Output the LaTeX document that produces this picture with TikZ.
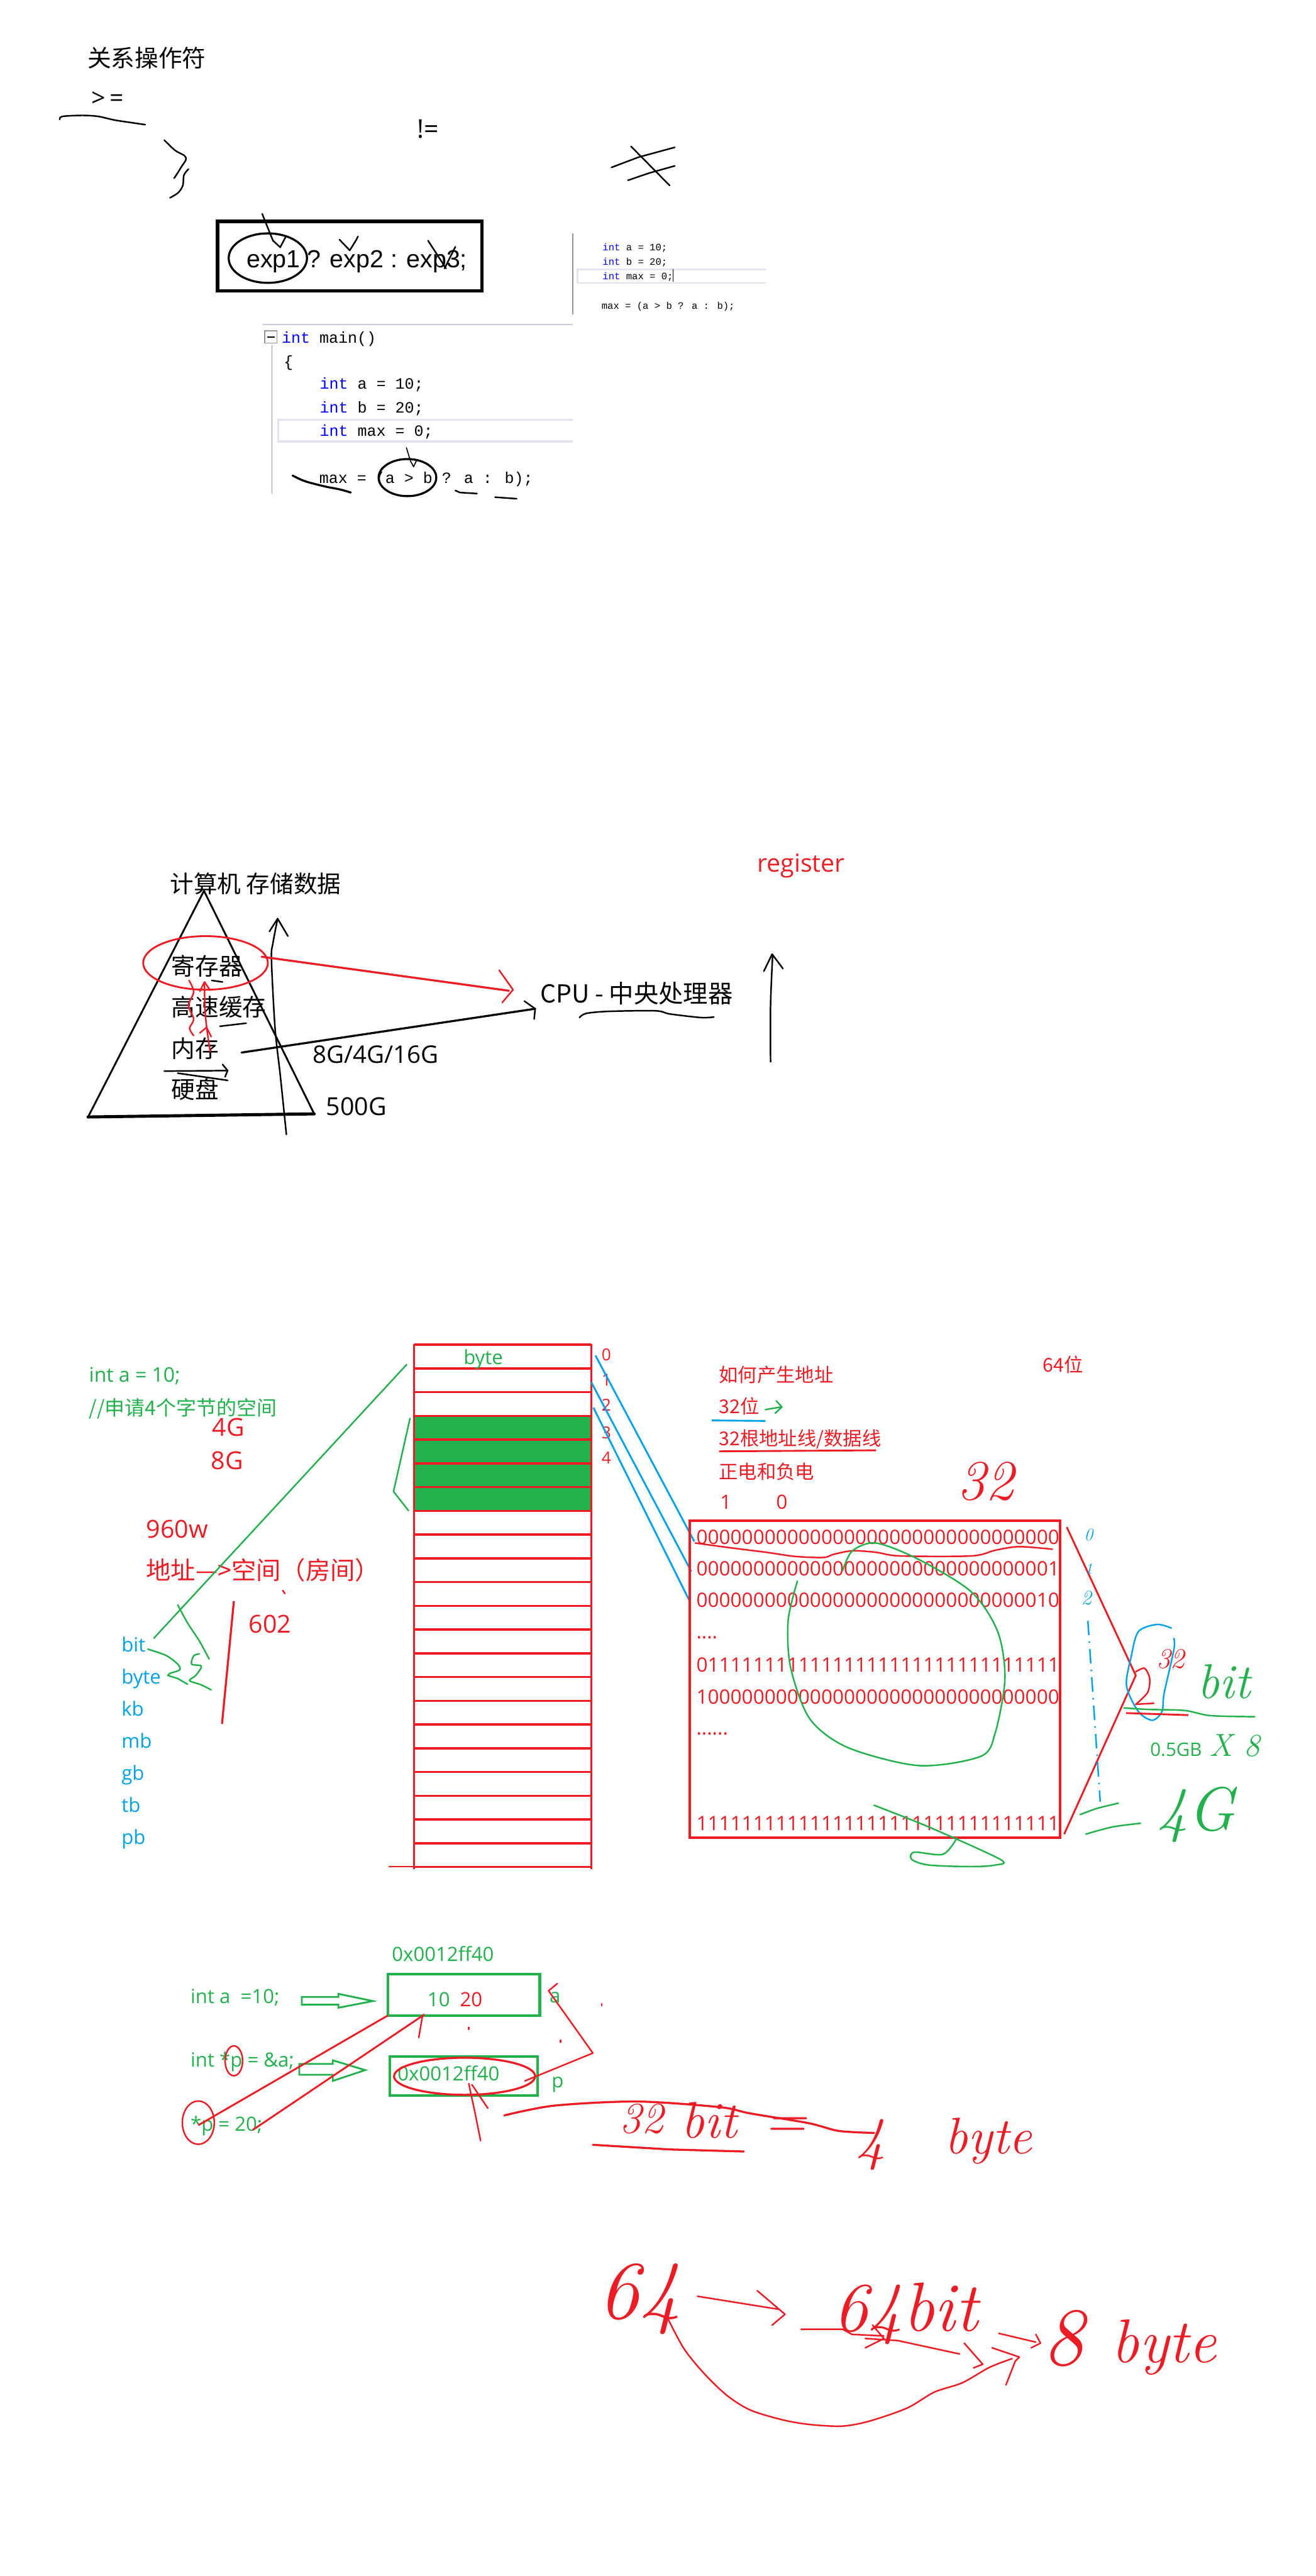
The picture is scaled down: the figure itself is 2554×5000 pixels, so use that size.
\documentclass[tikz,border=0pt]{standalone}
\usepackage{fontspec}
\newfontfamily\cjk{Noto Sans CJK SC}
\newfontfamily\lat{Open Sans}
\newfontfamily\arialish{Liberation Sans}
\newfontfamily\codefont{Liberation Mono}
\usetikzlibrary{arrows.meta}
\definecolor{paintRed}{RGB}{237,28,36}
\definecolor{paintGreen}{RGB}{34,177,76}
\definecolor{paintBlue}{RGB}{0,162,232}
\definecolor{kwBlue}{RGB}{0,0,255}
\definecolor{rulerGray}{RGB}{150,150,150}
\definecolor{paneLine}{RGB}{200,202,218}
\definecolor{hiLite}{RGB}{226,226,240}
\newcommand{\fsz}[1]{\fontsize{#1}{#1}\selectfont}
\newcommand{\kw}[1]{\textcolor{kwBlue}{#1}}

\begin{document}
\begin{tikzpicture}[x=1pt, y=-1pt,
    every node/.style={inner sep=0pt, outer sep=0pt, anchor=base west},
    zh/.style={font={\cjk\fsz{#1}}},
    en/.style={font={\lat\fsz{#1}}},
    cd/.style={font={\codefont\fsz{#1}}},
    hw/.style={font={\normalfont\itshape\fsz{#1}}},
    pen/.style={line width=3pt, line cap=round, line join=round},
    memline/.style={paintRed, line width=4.5pt},
    hollow/.style={paintGreen, line width=3.5pt, line join=miter}
  ]
  \useasboundingbox[fill=white] (0,0) rectangle (2554,5000);

  % relational operators
  \node[zh=46] (relOps) at (170,130) {关系操作符};
  \node[en=48] (geq) at (178,207) {>\kern7pt=};
  \node[en=50] (neq) at (810,268) {!=};
  \draw[pen] plot[smooth] coordinates {(116,232) (121,226) (160,224) (191,226) (222,233) (255,238) (282,242)};
  \draw[pen] plot[smooth] coordinates {(319,272) (340,292) (358,302) (361,310) (352,324) (346,334) (338,346)};
  \draw[pen] plot[smooth] coordinates {(366,328) (357,340) (355,360) (346,374) (330,384)};
  \draw[pen] (1225,284) -- (1300,360);
  \draw[pen] (1187,325) -- (1240,305) -- (1310,286);
  \draw[pen] (1219,350) -- (1260,336) -- (1310,322);

  % ternary operator
  \node[draw, line width=7pt, minimum width=513pt, minimum height=135pt, anchor=center] (ternBox) at (679,497) {};
  \node[font={\arialish\fsz{48}}] (ternary) at (479,519) {exp1 ? exp2 : exp3;};
  \draw[line width=4pt] (520,501) ellipse [x radius=76pt, y radius=48pt];
  \draw[pen] (509,415) -- (523,450) -- (530,467) -- (544,480) -- (554,461);
  \draw[pen] (659,465) -- (679,486) -- (692,465) -- (695,459);
  \draw[pen] (831,467) -- (866,521);
  \draw[pen] (884,479) -- (863,521);

  % small code screenshot
  \draw[rulerGray, line width=1.5pt] (1112,453) -- (1112,610);
  \draw[paneLine, line width=2.5pt] (510,630) -- (1112,630);
  \draw[hiLite, line width=3pt] (1487,523) -- (1121,523) -- (1121,549) -- (1487,549);
  \node[cd=19] (smallA) at (1170,487) {\kw{int} a = 10;};
  \node[cd=19] (smallB) at (1170,515) {\kw{int} b = 20;};
  \node[cd=19] (smallMax) at (1170,543) {\kw{int} max = 0;};
  \draw[line width=1pt] (1307,522) -- (1307,547);
  \node[cd=19] (smallTern) at (1168,600) {max = (a > b ? a : b);};

  % large code screenshot
  \draw[rulerGray, line width=1.5pt] (514,642) rectangle (538,666);
  \draw[line width=2.5pt] (519,654) -- (533,654);
  \draw[rulerGray, line width=1.5pt] (528,670) -- (528,958);
  \draw[hiLite, line width=4pt] (1112,815) -- (540,815) -- (540,857) -- (1112,857);
  \node[cd=30.5] (mainSig) at (547,666) {\kw{int} main()};
  \node[cd=30.5] (brace) at (551,712) {\{};
  \node[cd=30.5] (bigA) at (621,755) {\kw{int} a = 10;};
  \node[cd=30.5] (bigB) at (621,801) {\kw{int} b = 20;};
  \node[cd=30.5] (bigMax) at (621,846) {\kw{int} max = 0;};
  \node[cd=30.5] (bigTern) at (620,938) {max = (a > b ? a : b);};
  \draw[line width=4pt] (791,927) ellipse [x radius=56pt, y radius=36pt];
  \draw[pen, line width=2pt] (789,869) -- (797,895) -- (803,906) -- (809,893);
  \draw[pen, line width=4pt] plot[smooth] coordinates {(568,923) (592,934) (630,944) (660,950) (681,956)};
  \draw[pen] (884,952) -- (893,956) -- (926,958);
  \draw[pen] (961,965) -- (1003,968);

  % storage pyramid
  \node[zh=46] (storeTitle) at (330,1733) {计算机 存储数据};
  \draw[line width=3.5pt, line join=round] (171,2168) -- (396,1729) -- (610,2162);
  \draw[line width=6pt, line cap=round] (171,2168) -- (610,2162);
  \draw[pen] plot[smooth] coordinates {(539,1783) (530,1830) (527,1862) (534,1996) (544,2086) (556,2202)};
  \draw[pen] (523,1808) -- (539,1783) -- (559,1817);
  \draw[paintRed, line width=3.5pt] (399,1869) ellipse [x radius=121pt, y radius=52pt];
  \node[zh=46] (reg) at (333,1893) {寄存器};
  \node[zh=46] (cache) at (333,1972) {高速缓存};
  \node[zh=46] (ram) at (333,2053) {内存};
  \node[zh=46] (disk) at (333,2132) {硬盘};
  \node[zh=48] (cpu) at (1049,1946) {CPU - 中央处理器};
  \node[en=47] (ramSize) at (607,2063) {8G/4G/16G};
  \node[en=48] (diskSize) at (633,2165) {500G};
  \node[en=48, text=paintRed] (regWord) at (1470,1692) {register};
  \coordinate (regTip) at (988,1923);
  \draw[paintRed, line width=4pt, line cap=round] (508,1857) -- (regTip);
  \draw[paintRed, pen] (969,1883) -- (996,1921) -- (975,1946);
  \coordinate (cpuTip) at (1039,1958);
  \draw[line width=4pt, line cap=round] (469,2043) -- (cpuTip);
  \draw[pen] (1018,1943) -- (cpuTip) -- (1037,1978);
  \draw[pen] plot[smooth] coordinates {(1125,1975) (1138,1967) (1182,1963) (1273,1962) (1300,1968) (1360,1975) (1386,1974)};
  \draw[paintRed, pen] plot[smooth] coordinates {(367,1903) (376,1925) (366,1952) (376,1978) (368,1996) (376,2010)};
  \draw[paintRed, pen] plot[smooth] coordinates {(408,2041) (402,2000) (398,1960) (397,1910)};
  \draw[paintRed, pen] (388,1924) -- (397,1906) -- (408,1922);
  \draw[paintRed, pen] (388,2005) -- (401,1994) -- (410,2012);
  \draw[pen] (411,1903) -- (432,1906);
  \draw[pen] (427,1992) -- (478,1986);
  \draw[pen] (319,2079) -- (442,2078);
  \draw[pen] (432,2066) -- (442,2078) -- (437,2090);
  \draw[pen] (345,2083) -- (442,2097);
  \draw[pen] plot[smooth] coordinates {(1496,2061) (1496,1950) (1500,1854)};
  \draw[pen] (1483,1885) -- (1499,1852) -- (1520,1880);

  % memory cells
  \node[en=39, text=paintGreen] (declA) at (173,2683) {int a = 10;};
  \node[zh=39, text=paintGreen] (declNote) at (173,2747) {//申请4个字节的空间};
  \node[en=48, text=paintRed] (mem4g) at (412,2788) {4G};
  \node[en=48, text=paintRed] (mem8g) at (410,2852) {8G};
  \node[en=48, text=paintRed] (rooms) at (284,2985) {960w};
  \node[zh=48, text=paintRed] (addrRoom) at (284,3066) {地址—>空间（房间）};
  \node[en=48, text=paintRed] (room602) at (483,3169) {602};
  \draw[paintRed, pen] (549,3087) -- (553,3093);
  \draw[paintRed, line width=4pt] (454,3108) -- (431,3346);
  \foreach \unit [count=\k from 0] in {bit,byte,kb,mb,gb,tb,pb}
    \node[en=38, text=paintBlue] (unit\k) at (236,{3206+\k*62.3}) {\unit};
  \coordinate (colTL) at (790,2648);
  \draw[paintGreen, line width=3pt] (unit0.north east) ++(16,3) -- (colTL);
  \draw[paintGreen, pen] plot[smooth] coordinates {(287,3201) (322,3213) (345,3230) (349,3241) (330,3248) (326,3252)};
  \draw[paintGreen, pen] (326,3252) -- (345,3258) -- (364,3269);
  \draw[paintGreen, pen] plot[smooth] coordinates {(345,3115) (364,3150) (387,3185) (406,3220)};
  \draw[paintGreen, pen] plot[smooth] coordinates {(387,3210) (376,3214) (372,3230) (391,3234) (380,3252) (368,3262) (390,3270) (410,3280)};

  \fill[paintGreen] (806,2748) rectangle (1146,2933);
  \foreach \row in {0,...,22}
    \draw[memline] (804,{2610+\row*46.08}) -- (1148,{2610+\row*46.08});
  \draw[memline] (804,2608) -- (804,3628) (1148,2608) -- (1148,3628);
  \draw[paintRed, line width=2pt] (754,3623) -- (804,3623);
  \node[en=38, text=paintGreen] (cellByte) at (900,2648) {byte};
  \foreach \n/\yy in {0/2641,1/2690,2/2739,3/2792,4/2841}
    \node[en=32, text=paintRed] (idx\n) at (1168,\yy) {\n};
  \draw[paintGreen, pen] (796,2753) -- (764,2895) -- (793,2932);
  \draw[paintBlue, line width=3.5pt] (1156,2631) -- (1348,2992);
  \draw[paintBlue, line width=3.5pt] (1148,2683) -- (1342,3050);
  \draw[paintBlue, line width=3.5pt] (1152,2732) -- (1339,3108);

  % address lines
  \node[zh=37, text=paintRed] (howAddr) at (1396,2683) {如何产生地址};
  \node[zh=37, text=paintRed] (bits32) at (1396,2744) {32位};
  \draw[paintBlue, line width=3.5pt] (1382,2757) -- (1486,2758);
  \draw[paintGreen, pen] (1486,2736) -- (1516,2731);
  \draw[paintGreen, pen] (1507,2719) -- (1518,2731) -- (1505,2743);
  \node[zh=37, text=paintRed] (wires) at (1396,2806) {32根地址线/数据线};
  \draw[paintRed, line width=3.5pt] (1396,2817) -- (1701,2815);
  \node[zh=37, text=paintRed] (charge) at (1396,2870) {正电和负电};
  \node[en=38, text=paintRed] (one) at (1398,2929) {1};
  \node[en=38, text=paintRed] (zero) at (1507,2929) {0};
  \node[zh=37, text=paintRed] (bits64) at (2025,2663) {64位};
  \node[hw=110, text=paintRed] (hand32) at (1858,2911) {32};

  \draw[paintRed, line width=4.5pt] (1339,2952) rectangle (2058,3567);
  \node[en=38.5, text=paintRed] (addr0) at (1352,2997) {00000000000000000000000000000000};
  \node[en=38.5, text=paintRed] (addr1) at (1352,3059) {00000000000000000000000000000001};
  \node[en=38.5, text=paintRed] (addr2) at (1352,3120) {00000000000000000000000000000010};
  \node[en=38.5, text=paintRed] (dotsA) at (1352,3181) {....};
  \node[en=38.5, text=paintRed] (addrMid) at (1352,3245) {01111111111111111111111111111111};
  \node[en=38.5, text=paintRed] (addrHalf) at (1352,3308) {10000000000000000000000000000000};
  \node[en=38.5, text=paintRed] (dotsB) at (1352,3367) {......};
  \node[en=38.5, text=paintRed] (addrTop) at (1352,3553) {11111111111111111111111111111111};
  \draw[paintRed, pen] plot[smooth] coordinates {(1350,2995) (1424,3005) (1488,3013) (1544,3021) (1599,3023) (1618,3017) (1655,3010) (1701,3013) (1747,3020) (1886,3020) (1932,3009) (1978,3002) (2043,3007)};
  \draw[paintGreen, pen] plot[smooth] coordinates {(1548,3069) (1530,3146) (1535,3237) (1572,3336) (1646,3392) (1784,3427) (1904,3409) (1932,3364) (1951,3258) (1937,3167) (1886,3090) (1784,3027) (1701,2995) (1655,3010) (1636,3048)};
  \draw[paintGreen, pen] plot[smooth] coordinates {(1697,3504) (1803,3546) (1942,3609) (1932,3620) (1886,3623) (1803,3620) (1770,3609) (1775,3595) (1831,3599) (1858,3567)};
  \draw[paintRed, line width=3.5pt] (2071,2964) -- (2205,3252) -- (2066,3560);
  \node[hw=34, text=paintBlue] (lane0) at (2105,2990) {0};
  \node[hw=30, text=paintBlue] (lane1) at (2106,3055) {1};
  \node[hw=40, text=paintBlue] (lane2) at (2099,3115) {2};
  \draw[paintBlue, line width=3pt, dash pattern=on 28pt off 12pt on 3pt off 12pt] (2112,3146) -- (2136,3497);
  \draw[paintBlue, pen] plot[smooth] coordinates {(2274,3160) (2246,3153) (2210,3167) (2196,3216) (2187,3272) (2210,3322) (2237,3339) (2256,3322) (2260,3287) (2279,3202) (2279,3180)};
  \node[hw=55, text=paintRed] (small32) at (2245,3238) {32};
  \draw[paintRed, pen] plot[smooth] coordinates {(2205,3245) (2222,3238) (2232,3258) (2228,3285) (2205,3308)};
  \draw[paintRed, pen] (2205,3308) -- (2240,3306);
  \draw[paintRed, line width=3.5pt] (2186,3325) -- (2307,3329);
  \draw[paintGreen, pen] plot[smooth] coordinates {(2182,3315) (2230,3318) (2300,3320) (2350,3330) (2436,3332)};
  \node[hw=95, text=paintGreen] (handBit) at (2325,3297) {bit};
  \node[en=36, text=paintGreen] (halfGB) at (2233,3409) {0.5GB};
  \node[hw=62, text=paintGreen] (times8) at (2348,3409) {X 8};
  \node[hw=120, text=paintGreen] (hand4G) at (2247,3553) {4G};
  \draw[paintGreen, pen] plot[smooth] coordinates {(2097,3522) (2130,3510) (2171,3500)};
  \draw[paintGreen, pen] plot[smooth] coordinates {(2108,3560) (2160,3546) (2214,3539)};

  % pointer
  \node[en=38, text=paintGreen] (addrLabel) at (761,3807) {0x0012ff40};
  \node[draw=paintGreen, line width=5pt, minimum width=295pt, minimum height=80pt, anchor=center] (cellA) at (900.5,3872) {};
  \node[en=38, text=paintGreen] (valOld) at (830,3895) {10};
  \node[en=38, text=paintRed] (valNew) at (893,3895) {20};
  \node[en=38, text=paintGreen] (nameA) at (1067,3887) {a};
  \node[en=38, text=paintGreen] (stmtA) at (370,3889) {int a\ \ =10;};
  \draw[hollow] (586,3876) -- (657,3876) -- (657,3870) -- (724,3884) -- (657,3897) -- (657,3891) -- (586,3891) -- cycle;
  \node[draw=paintGreen, line width=5pt, minimum width=287pt, minimum height=75pt, anchor=center] (cellP) at (900.5,4029.5) {};
  \node[en=38, text=paintGreen] (stmtP) at (370,4012) {int *p = \&a;};
  \node[en=38, text=paintGreen] (valP) at (772,4039) {0x0012ff40};
  \node[en=38, text=paintGreen] (nameP) at (1071,4052) {p};
  \node[en=38, text=paintGreen] (stmtDeref) at (370,4136) {*p = 20;};
  \draw[hollow] (581,4006) -- (646,4006) -- (646,3999) -- (709,4018) -- (646,4039) -- (646,4027) -- (581,4027) -- cycle;
  \draw[paintRed, line width=4pt] (902,4030) ellipse [x radius=137pt, y radius=36pt];
  \draw[paintRed, line width=3pt] (454,4000) ellipse [x radius=17pt, y radius=29pt];
  \draw[paintRed, line width=3pt] (385,4120) ellipse [x radius=31pt, y radius=42pt];
  \draw[paintRed, line width=3.5pt] (385,4125) -- (cellA.south west);
  \draw[paintRed, line width=3.5pt] (491,4134) -- (824,3910);
  \draw[paintRed, pen] (820,3914) -- (813,3955);
  \draw[paintRed, pen] (1082,3850) -- (1065,3864) -- (1151,3985) -- (1019,4039);
  \draw[paintRed, pen] (1168,3889) -- (1168,3893);
  \draw[paintRed, pen] (910,3935) -- (910,3939);
  \draw[paintRed, pen] (1088,3960) -- (1088,3964);
  \draw[paintRed, pen] (910,4044) -- (922,4100) -- (933,4155);
  \draw[paintRed, pen] (916,4046) -- (947,4092);
  \draw[paintRed, pen, line width=4pt] plot[smooth] coordinates {(979,4106) (1076,4087) (1237,4079) (1398,4090) (1456,4102) (1570,4121) (1628,4136) (1697,4140)};
  \node[hw=85, text=paintRed] (eq32) at (1203,4140) {32};
  \node[hw=100, text=paintRed] (eqBit) at (1323,4150) {bit};
  \node[hw=110, text=paintRed] (eqSign) at (1484,4150) {=};
  \node[hw=115, text=paintRed] (eq4) at (1662,4190) {4};
  \node[hw=100, text=paintRed] (eqByte) at (1834,4180) {byte};
  \draw[paintRed, pen, line width=4pt] (1151,4163) -- (1300,4172) -- (1444,4176);

  % 64 bit
  \node[hw=160, text=paintRed] (w64) at (1162,4500) {64};
  \node[hw=135, text=paintRed] (w64bit) at (1618,4525) {64bit};
  \node[hw=160, text=paintRed] (w8) at (2024,4590) {8};
  \node[hw=120, text=paintRed] (wByte) at (2158,4585) {byte};
  \draw[paintRed, pen] (1354,4457) -- (1510,4482);
  \draw[paintRed, pen] (1470,4446) -- (1524,4492) -- (1499,4513);
  \draw[paintRed, pen] (1555,4521) -- (1636,4521) -- (1654,4531) -- (1716,4534);
  \draw[paintRed, pen] (1694,4513) -- (1716,4539) -- (1680,4557);
  \draw[paintRed, pen] (1680,4539) -- (1743,4543) -- (1863,4569);
  \draw[paintRed, pen] (1872,4548) -- (1908,4589) -- (1890,4596);
  \draw[paintRed, pen] (1939,4529) -- (2011,4546);
  \draw[paintRed, pen] (2011,4531) -- (2020,4548) -- (2002,4557);
  \draw[paintRed, pen] plot[smooth] coordinates {(1296,4499) (1328,4559) (1368,4608) (1412,4650) (1457,4678) (1520,4697) (1573,4706) (1636,4709) (1689,4699) (1761,4674) (1814,4643) (1868,4625) (1921,4595) (1965,4578)};
  \draw[paintRed, pen] (1926,4557) -- (1979,4575) -- (1971,4583) -- (1953,4629);
\end{tikzpicture}
\end{document}
